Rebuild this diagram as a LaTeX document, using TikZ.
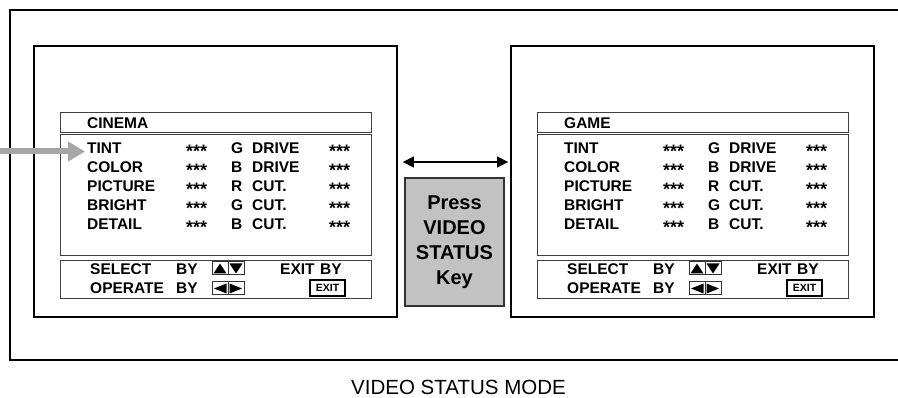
\documentclass[tikz,border=0pt]{standalone}
\usepackage{fontspec}
\setmainfont{Liberation Sans}
\usetikzlibrary{arrows.meta}
\definecolor{keygrey}{HTML}{C2C2C2}
\definecolor{pointgrey}{HTML}{A6A6A6}

\begin{document}
\begin{tikzpicture}[x=1pt,y=-1pt,
  screen/.style={draw,line width=1.8pt,minimum width=363pt,minimum height=271pt,inner sep=0pt},
  panel/.style={draw=black!75,line width=1pt},
  lbl/.style={anchor=west,inner sep=0pt,text height=11pt,text depth=0pt,
              font=\fontsize{15.5}{18}\selectfont\bfseries},
  stars/.style={lbl,font=\fontsize{18}{18}\selectfont\bfseries},
  btn/.style={draw=black!80,line width=1pt},
  exitkey/.style={draw,line width=1.5pt,minimum width=35pt,minimum height=16pt,inner sep=0pt,
                  font=\fontsize{10.5}{12}\selectfont\bfseries},
  keybox/.style={draw=black!80,line width=1.5pt,fill=keygrey,minimum width=99pt,minimum height=128pt,
                 align=center,font=\fontsize{20}{25}\selectfont\bfseries},
  swap/.style={line width=1.5pt,{Triangle[length=11pt,width=11pt]}-{Triangle[length=11pt,width=11pt]}},
  pointer/.style={pointgrey,line width=6pt,-{Triangle[length=17pt,width=19pt]}}]
\useasboundingbox (0,0) rectangle (898,398);

% outer frame, open on the right
\draw[line width=1.8pt] (898,10) -- (10,10) -- (10,360) -- (898,360);

\foreach \dx/\ttl/\s in {0/CINEMA/L,477/GAME/R}{
  \begin{scope}[xshift=\dx]
    \node[screen] (scr\s) at (215.5,181.5) {};
    \draw[panel] (60,113) rectangle (371,133);
    \draw[panel] (60,135) rectangle (371,256);
    \draw[panel] (60,261) rectangle (371,299);
    \node[lbl] (ttl\s) at (87,123) {\ttl};
    \foreach \lab/\chn/\wrd [count=\i from 0] in
        {TINT/G/DRIVE,COLOR/B/DRIVE,PICTURE/R/CUT.,BRIGHT/G/CUT.,DETAIL/B/CUT.}{
      \node[lbl]   (lab\s\i) at (87,{148+19*\i})  {\lab};
      \node[stars] (va\s\i)  at (186,{148+19*\i}) {\raisebox{-4.5pt}{***}};
      \node[lbl]   (ch\s\i)  at (231,{148+19*\i}) {\chn};
      \node[lbl]   (wd\s\i)  at (252,{148+19*\i}) {\wrd};
      \node[stars] (vb\s\i)  at (329,{148+19*\i}) {\raisebox{-4.5pt}{***}};
    }
    % selection keys
    \node[lbl] (sel\s)  at (90,269)  {SELECT};
    \node[lbl] (sby\s)  at (176,269) {BY};
    \node[lbl] (ext\s)  at (280,269) {EXIT};
    \node[lbl] (eby\s)  at (320,269) {BY};
    \node[lbl] (opr\s)  at (90,288)  {OPERATE};
    \node[lbl] (oby\s)  at (176,288) {BY};
    \draw[btn] (212,262) rectangle (228,275) (228,262) rectangle (244,275);
    \draw[btn] (212,282) rectangle (228,295) (228,282) rectangle (244,295);
    \fill (213.5,273.5) -- (226.5,273.5) -- (220,263.5) -- cycle;
    \fill (229.5,263.5) -- (242.5,263.5) -- (236,273.5) -- cycle;
    \fill (226.5,283.5) -- (226.5,293.5) -- (214,288.5) -- cycle;
    \fill (229.5,283.5) -- (229.5,293.5) -- (242,288.5) -- cycle;
    \node[exitkey] (xk\s) at (327.5,288) {EXIT};
  \end{scope}
}

\node[keybox] (key) at (454.5,242) {Press\\VIDEO\\STATUS\\Key};

\draw[swap,shorten <=5pt,shorten >=2pt] ([yshift=19.5pt]scrL.east) -- ([yshift=19.5pt]scrR.west);

\coordinate (src) at (0,151.5);
\draw[pointer] (src) -- ([xshift=-2pt]src -| labL0.west);

\node[font=\fontsize{20.5}{24}\selectfont] (cap) at (458.5,387) {VIDEO STATUS MODE};
\end{tikzpicture}
\end{document}
